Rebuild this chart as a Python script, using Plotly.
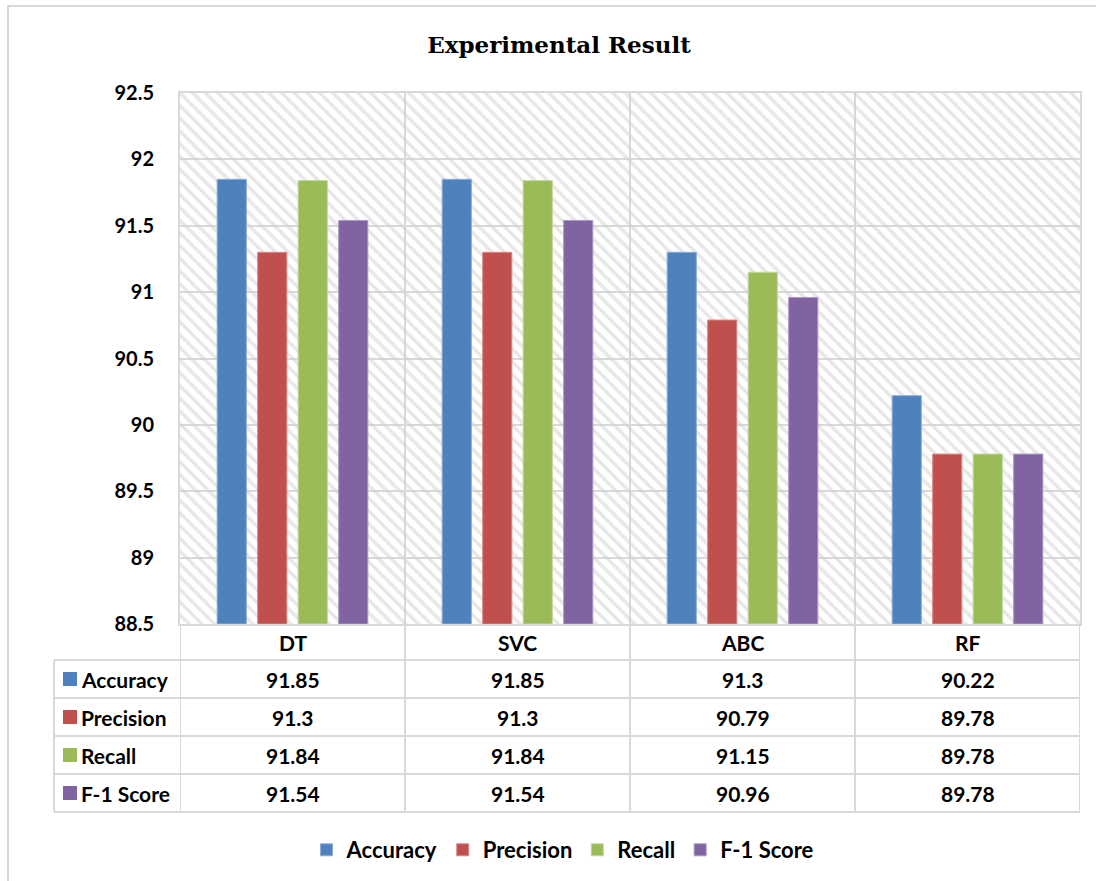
import plotly.graph_objects as go

# ---- data ----
categories = ["DT", "SVC", "ABC", "RF"]
series_names = ["Accuracy", "Precision", "Recall", "F-1 Score"]
accuracy = [91.85, 91.85, 91.3, 90.22]
precision = [91.3, 91.3, 90.79, 89.78]
recall = [91.84, 91.84, 91.15, 89.78]
f1_score = [91.54, 91.54, 90.96, 89.78]
y_ticks = [88.5, 89, 89.5, 90, 90.5, 91, 91.5, 92, 92.5]

series_values = [accuracy, precision, recall, f1_score]
colors = ["#4F81BD", "#C0504D", "#9BBB59", "#8064A2"]
line_colors = ["#8AAED8", "#D88A88", "#C2D79A", "#AC98C4"]

W, H = 1096, 881
GRID = "#D9D9D9"
FONT = "Lato"


def px(x):
    return x / W


def py(y):
    return 1 - y / H


xpos = list(range(len(categories)))
ymin, ymax = y_ticks[0], y_ticks[-1]

fig = go.Figure()

# hatched plot-area background (transparent fill, diagonal pattern)
fig.add_trace(go.Bar(
    x=[(len(categories) - 1) / 2], y=[ymax - ymin], base=[ymin],
    width=[len(categories)],
    marker=dict(color="rgba(0,0,0,0)", line=dict(width=0),
                pattern=dict(shape="\\", fgcolor="#D0D0D0", bgcolor="rgba(0,0,0,0)",
                             size=9, solidity=0.38)),
    showlegend=False, hoverinfo="skip",
))

n = len(series_names)
group = 0.72
slot = group / n
bw = slot * 0.72
for i, (name, vals) in enumerate(zip(series_names, series_values)):
    off = -group / 2 + slot * i + (slot - bw) / 2
    fig.add_trace(go.Bar(
        x=xpos, y=[v - ymin for v in vals], base=[ymin] * len(vals),
        width=[bw] * len(vals), offset=[off] * len(vals),
        name=name,
        marker=dict(color=colors[i], line=dict(color=line_colors[i], width=1)),
        hovertext=[f"{c}: {v:g}" for c, v in zip(categories, vals)], hoverinfo="text+name",
    ))

shapes = []
# outer chart border
shapes.append(dict(type="rect", xref="paper", yref="paper",
                   x0=px(8), x1=1.02, y0=py(6), y1=-0.02,
                   line=dict(color=GRID, width=2), fillcolor="rgba(0,0,0,0)", layer="below"))

# data table
tbl_top, hdr_bot, row_h = 624, 660, 38
tbl_left = 54
row_centers = [hdr_bot + row_h * (k + 0.5) for k in range(n)]
tbl_bot = hdr_bot + row_h * n
for k in range(len(categories) + 1):
    shapes.append(dict(type="line", xref="x", yref="paper",
                       x0=k - 0.5, x1=k - 0.5, y0=py(tbl_top), y1=py(tbl_bot),
                       line=dict(color=GRID, width=2)))
shapes.append(dict(type="line", xref="paper", yref="paper",
                   x0=px(tbl_left), x1=px(tbl_left), y0=py(hdr_bot), y1=py(tbl_bot),
                   line=dict(color=GRID, width=2)))
for k in range(n + 1):
    yy = hdr_bot + row_h * k
    shapes.append(dict(type="line", xref="paper", yref="paper",
                       x0=px(tbl_left), x1=px(1080), y0=py(yy), y1=py(yy),
                       line=dict(color=GRID, width=2)))
for i in range(n):
    yc = row_centers[i]
    shapes.append(dict(type="rect", xref="paper", yref="paper",
                       x0=px(63), x1=px(77), y0=py(yc + 7), y1=py(yc - 7),
                       line=dict(width=0), fillcolor=colors[i]))

annotations = []
fnt_val = dict(family=FONT, size=21, color="#000000", weight="bold")
fnt_lbl = dict(family=FONT, size=21, color="#000000", weight="bold")
fnt_leg = dict(family=FONT, size=22, color="#000000", weight="bold")
for j, c in enumerate(categories):
    annotations.append(dict(x=j, xref="x", y=py((tbl_top + hdr_bot) / 2), yref="paper",
                            text=c, showarrow=False, font=fnt_val,
                            xanchor="center", yanchor="middle"))
for i, (name, vals) in enumerate(zip(series_names, series_values)):
    yc = py(row_centers[i])
    annotations.append(dict(x=px(79), xref="paper", y=yc, yref="paper",
                            text=name, showarrow=False, font=fnt_lbl,
                            xanchor="left", yanchor="middle"))
    for j, v in enumerate(vals):
        annotations.append(dict(x=j, xref="x", y=yc, yref="paper",
                                text=f"{v:g}", showarrow=False, font=fnt_val,
                                xanchor="center", yanchor="middle"))

fig.update_layout(
    width=W, height=H, autosize=False,
    margin=dict(l=0, r=0, t=0, b=0, autoexpand=False),
    paper_bgcolor="white", plot_bgcolor="white",
    barmode="overlay",
    title=dict(text="Experimental Result", x=px(559), xanchor="center",
               y=py(45), yanchor="middle", yref="container",
               font=dict(family="DejaVu Serif", size=23, color="#000000", weight="bold")),
    xaxis=dict(domain=[px(180), px(1080)], range=[-0.5, len(categories) - 0.5],
               tickvals=[k - 0.5 for k in range(len(categories) + 1)],
               showticklabels=False, ticks="", showgrid=True, gridcolor=GRID, gridwidth=2,
               showline=True, mirror=True, linecolor=GRID, linewidth=2, zeroline=False,
               fixedrange=True, automargin=False),
    yaxis=dict(domain=[py(624), py(93)], range=[ymin, ymax], tickvals=y_ticks,
               ticktext=[f"{t:g}" for t in y_ticks],
               ticks="", ticklabelstandoff=20,
               tickfont=dict(family=FONT, size=20, color="#000000", weight="bold"),
               showgrid=True, gridcolor=GRID, gridwidth=2,
               showline=True, mirror=True, linecolor=GRID, linewidth=2, zeroline=False,
               fixedrange=True, automargin=False),
    legend=dict(orientation="h", x=px(563), xanchor="center", y=py(850), yanchor="middle",
                font=fnt_leg, itemwidth=30, tracegroupgap=0, bgcolor="rgba(0,0,0,0)"),
    shapes=shapes,
    annotations=annotations,
)

fig.write_html("out.html")
